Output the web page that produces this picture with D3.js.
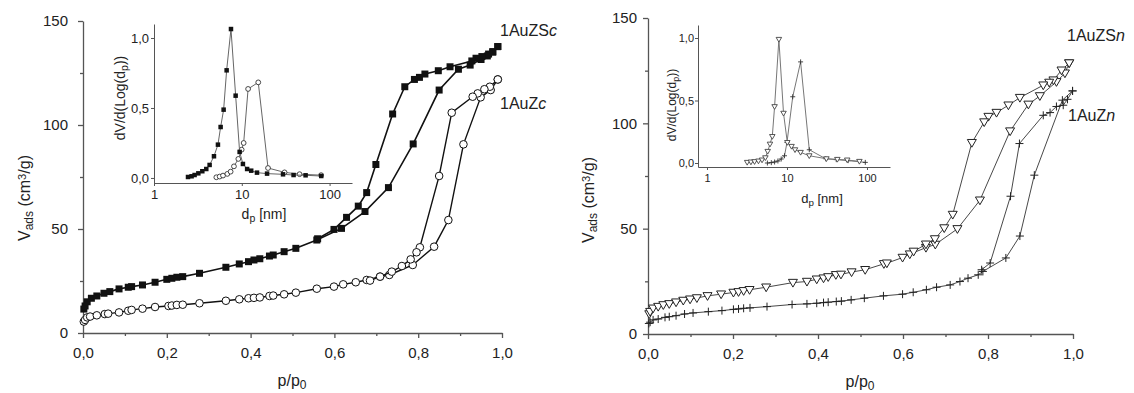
<!DOCTYPE html>
<html>
<head>
<meta charset="utf-8">
<script src="https://cdn.jsdelivr.net/npm/d3@7"></script>
<style>
  body { margin: 0; background: #fff; }
  svg { font-family: "Liberation Sans", Arial, sans-serif; }
  .axis path, .axis line { stroke: #555; }
  .axis text { fill: #222; }
</style>
</head>
<body>
<svg id="chart" width="1134" height="393"></svg>
<script>
// isotherms: [p/p0, V ads]
const zsAds = [[0.002,11.5],[0.005,13],[0.01,15],[0.02,16.7],[0.033,17.8],[0.05,19.1],[0.064,19.9],[0.086,21.2],[0.108,22],[0.116,22.3],[0.142,23.1],[0.172,24.4],[0.2,25.8],[0.212,26.3],[0.224,26.8],[0.238,27.1],[0.278,28.7],[0.341,31.6],[0.373,33.2],[0.395,34.3],[0.408,35.1],[0.422,35.7],[0.445,37],[0.454,37.5],[0.48,39.1],[0.508,40.7],[0.558,44.7],[0.617,50.3],[0.673,58.4],[0.729,69.9],[0.788,90.9],[0.85,116.8],[0.896,126.8],[0.924,128.8],[0.95,131.5],[0.965,133.2],[0.978,135],[0.99,137.7]];
const zsDes = [[0.99,137.7],[0.978,135.3],[0.968,134.1],[0.952,132.9],[0.938,132.1],[0.928,130.8],[0.876,128],[0.848,126.1],[0.816,124.5],[0.803,122.9],[0.791,121.9],[0.768,118.4],[0.739,105.3],[0.699,81],[0.677,67.5],[0.657,61],[0.629,55.6],[0.599,49.8],[0.56,45.3]];
const zAds = [[0.002,5.5],[0.005,6.3],[0.01,7.5],[0.017,7.9],[0.033,8.5],[0.052,9.1],[0.06,9.3],[0.086,9.9],[0.108,10.7],[0.116,11.1],[0.142,11.7],[0.172,12.5],[0.204,13],[0.212,13.2],[0.224,13.5],[0.238,13.6],[0.278,14.3],[0.341,15.5],[0.373,16.2],[0.395,16.7],[0.408,16.9],[0.422,17.1],[0.445,17.8],[0.454,18],[0.48,18.6],[0.508,19.4],[0.558,21.3],[0.599,22.3],[0.621,23.4],[0.651,24.4],[0.677,25.5],[0.709,27.1],[0.731,27.9],[0.787,32.7],[0.838,41.5],[0.872,54.3],[0.908,90.7],[0.949,113.3],[0.973,116.8],[0.99,121.9]];
const zDes = [[0.99,121.9],[0.971,118.4],[0.958,117.2],[0.942,115.2],[0.93,113.6],[0.88,105.9],[0.85,75.5],[0.804,41.2],[0.796,38.8],[0.782,35.4],[0.761,32.2],[0.737,29.5],[0.709,27.1],[0.685,25.2]];

const znsAds = [[0.003,9.5],[0.005,10.6],[0.012,12.2],[0.024,13],[0.036,13.8],[0.05,14.3],[0.066,15.1],[0.083,15.9],[0.099,16.5],[0.115,17.1],[0.14,18.1],[0.172,18.9],[0.201,19.7],[0.213,20],[0.225,20.5],[0.239,21],[0.278,22.2],[0.341,24.4],[0.374,24.9],[0.397,26],[0.413,26.5],[0.424,27.1],[0.442,28.1],[0.454,28.3],[0.479,29.4],[0.511,30.5],[0.555,33.3],[0.562,33.6],[0.599,36.3],[0.616,37.9],[0.654,41],[0.676,42.5],[0.728,49.9],[0.781,63.5],[0.852,96.3],[0.895,109],[0.922,113],[0.961,119.7],[0.981,123.8],[0.991,128.6]];
const znsDes = [[0.991,128.6],[0.973,125.2],[0.954,120.5],[0.944,119.4],[0.93,118.1],[0.875,112.2],[0.848,108.6],[0.82,105.1],[0.801,103.2],[0.791,100.6],[0.762,90.8],[0.717,56.7],[0.697,50.3],[0.675,45.1],[0.654,42.6],[0.625,39.2]];
const znAds = [[0.002,5],[0.005,5.6],[0.012,6.7],[0.024,7.1],[0.04,7.9],[0.05,8.2],[0.066,8.7],[0.086,9.5],[0.106,10],[0.142,10.6],[0.174,11.1],[0.201,11.7],[0.213,11.9],[0.225,12.2],[0.24,12.4],[0.28,13],[0.339,14],[0.374,14.3],[0.397,14.6],[0.413,14.9],[0.424,15.1],[0.443,15.4],[0.455,15.6],[0.478,16.2],[0.509,17],[0.554,18.1],[0.599,18.9],[0.624,19.8],[0.655,21],[0.679,22.2],[0.711,23.3],[0.734,24.9],[0.753,26.5],[0.777,28.1],[0.788,29.7],[0.842,36.1],[0.875,46.5],[0.909,75.4],[0.975,111],[0.999,115.4]];
const znDes = [[0.999,115.4],[0.987,111.4],[0.977,108.6],[0.961,108],[0.946,105.1],[0.93,103.8],[0.874,90.4],[0.853,65.4],[0.805,33.7],[0.785,30.5]];

// pore size distributions: [dp nm, dV/dlog(dp)]
const psdZSc = [[2.44,0.007],[2.68,0.012],[2.9,0.021],[3.2,0.033],[3.55,0.048],[3.94,0.064],[4.3,0.093],[4.82,0.155],[5.35,0.238],[5.74,0.364],[6.21,0.488],[6.72,0.769],[7.53,1.064],[8.51,0.588],[9.45,0.186],[10.3,0.1],[11.5,0.064],[12.8,0.052],[14.9,0.038],[19.4,0.031],[29.5,0.026],[38.9,0.021],[53.3,0.019],[80.4,0.014]];
const psdZc = [[5.13,0.005],[5.6,0.01],[6.11,0.017],[6.84,0.029],[7.46,0.045],[8.14,0.083],[9.13,0.136],[9.96,0.202],[10.5,0.25],[11.8,0.636],[15.4,0.683],[19.9,0.071],[30.7,0.04],[45.5,0.027],[80,0.02]];
const psdZSn = [[3.18,0.005],[3.54,0.008],[3.93,0.011],[4.4,0.016],[4.88,0.024],[5.37,0.042],[5.74,0.093],[6.13,0.151],[6.55,0.212],[7.0,0.451],[7.92,0.989],[9.05,0.398],[10.1,0.164],[11.4,0.133],[12.6,0.106],[14.8,0.085],[19.0,0.058],[31.1,0.034],[42.6,0.029],[56.6,0.024],[80.4,0.013]];
const psdZn = [[5.69,0.0],[6.37,0.003],[7.0,0.008],[7.7,0.016],[8.47,0.032],[9.31,0.058],[10.0,0.164],[11.8,0.53],[14.8,0.809],[19.0,0.106],[30.5,0.034],[41.3,0.027],[58.2,0.019],[95.3,0.005]];

const mainXTicks = [0, 0.2, 0.4, 0.6, 0.8, 1.0];
const mainXMinor = [0.1, 0.3, 0.5, 0.7, 0.9];
const mainYTicks = [0, 50, 100, 150];
const mainYMinor = [25, 75, 125];
const insetXTicks = [1, 10, 100];
const insetYTicks = [0, 0.5, 1.0];

const svg = d3.select('#chart');
const comma = (d) => d3.format('.1f')(d).replace('.', ',');

const square = (s) => `M${-s/2},${-s/2}h${s}v${s}h${-s}Z`;
const circle = (r) => `M${-r},0a${r},${r} 0 1,0 ${2*r},0a${r},${r} 0 1,0 ${-2*r},0`;
const triDown = (s) => `M${-s/2},${-s*0.36}L${s/2},${-s*0.36}L0,${s*0.5}Z`;
const plus = (s) => `M${-s/2},0H${s/2}M0,${-s/2}V${s/2}`;

function drawSeries(g, x, y, data, opt) {
  const line = d3.line().x((d) => x(d[0])).y((d) => y(d[1]));
  g.append('path')
    .datum(data)
    .attr('d', line)
    .attr('fill', 'none')
    .attr('stroke', opt.line)
    .attr('stroke-width', opt.lw);
  g.selectAll(null)
    .data(data)
    .enter()
    .append('path')
    .attr('d', opt.shape)
    .attr('transform', (d) => 'translate(' + x(d[0]) + ',' + y(d[1]) + ')')
    .attr('fill', opt.fill)
    .attr('stroke', opt.stroke)
    .attr('stroke-width', opt.sw);
}

function yLabel(g, cx, cy, size) {
  const t = g.append('text')
    .attr('transform', 'translate(' + cx + ',' + cy + ') rotate(-90)')
    .attr('text-anchor', 'middle')
    .style('font-size', size + 'px')
    .attr('fill', '#222');
  t.append('tspan').text('V');
  t.append('tspan').text('ads').attr('baseline-shift', '-25%').style('font-size', (size * 0.75) + 'px');
  t.append('tspan').text(' (cm');
  t.append('tspan').text('3').attr('baseline-shift', '40%').style('font-size', (size * 0.7) + 'px');
  t.append('tspan').text('/g)');
}

function drawMain(p) {
  const x = d3.scaleLinear().domain([0, 1]).range(p.xr);
  const y = d3.scaleLinear().domain([0, 150]).range(p.yr);
  const g = svg.append('g');

  g.append('g').attr('class', 'axis')
    .attr('transform', 'translate(0,' + p.yr[0] + ')')
    .call(d3.axisBottom(x).tickValues(mainXMinor).tickSize(3).tickFormat(''))
    .call((a) => a.select('.domain').remove());
  g.append('g').attr('class', 'axis')
    .attr('transform', 'translate(' + p.xr[0] + ',0)')
    .call(d3.axisLeft(y).tickValues(mainYMinor).tickSize(3).tickFormat(''))
    .call((a) => a.select('.domain').remove());
  g.append('g').attr('class', 'axis')
    .attr('transform', 'translate(0,' + p.yr[0] + ')')
    .call(d3.axisBottom(x).tickValues(mainXTicks).tickSize(5).tickSizeOuter(0).tickPadding(9).tickFormat(comma))
    .call((a) => a.selectAll('text').style('font-size', '15px'));
  g.append('g').attr('class', 'axis')
    .attr('transform', 'translate(' + p.xr[0] + ',0)')
    .call(d3.axisLeft(y).tickValues(mainYTicks).tickSize(5).tickSizeOuter(0).tickPadding(p.ypad).tickFormat(d3.format('d')))
    .call((a) => a.selectAll('text').style('font-size', '15px'));
  g.selectAll('.axis path, .axis line').attr('stroke-width', 1.3);

  const xl = g.append('text')
    .attr('x', p.xlab[0]).attr('y', p.xlab[1])
    .attr('text-anchor', 'middle')
    .style('font-size', '16px')
    .attr('fill', '#222');
  xl.append('tspan').text('p/p');
  xl.append('tspan').text('0').attr('baseline-shift', '-25%').style('font-size', '12px');
  yLabel(g, p.ylab[0], p.ylab[1], 16);

  p.series.forEach((s) => drawSeries(g, x, y, s.data, s.opt));

  p.labels.forEach((l) => {
    const t = g.append('text').attr('x', l.x).attr('y', l.y)
      .style('font-size', '16px').attr('fill', '#222');
    t.append('tspan').text(l.text);
    t.append('tspan').text(l.it).style('font-style', 'italic');
  });
}

function drawInset(p) {
  const x = d3.scaleLog().domain(p.xd).range(p.xr);
  const y = d3.scaleLinear().domain(p.yd).range(p.yr);
  const g = svg.append('g');

  g.append('g').attr('class', 'axis')
    .attr('transform', 'translate(0,' + p.yr[0] + ')')
    .call(d3.axisBottom(x).tickValues(insetXTicks).tickSize(3).tickSizeOuter(0).tickPadding(4).tickFormat(d3.format('d')))
    .call((a) => a.selectAll('text').style('font-size', p.fs + 'px'));
  g.append('g').attr('class', 'axis')
    .attr('transform', 'translate(' + p.xr[0] + ',0)')
    .call(d3.axisLeft(y).tickValues(insetYTicks).tickSize(3).tickSizeOuter(0).tickPadding(p.ypad).tickFormat(comma))
    .call((a) => a.selectAll('text').style('font-size', p.fs + 'px'));
  g.selectAll('.axis path, .axis line').attr('stroke-width', 1);

  const xl = g.append('text')
    .attr('x', p.xlab[0]).attr('y', p.xlab[1])
    .attr('text-anchor', 'middle')
    .style('font-size', p.lfs + 'px')
    .attr('fill', '#222');
  xl.append('tspan').text('d');
  xl.append('tspan').text('p').attr('baseline-shift', '-30%').style('font-size', (p.lfs * 0.75) + 'px');
  xl.append('tspan').text(' [nm]');

  const yl = g.append('text')
    .attr('transform', 'translate(' + p.ylab[0] + ',' + p.ylab[1] + ') rotate(-90)')
    .attr('text-anchor', 'middle')
    .style('font-size', p.yfs + 'px')
    .attr('fill', '#222');
  yl.append('tspan').text('dV/d(Log(d');
  yl.append('tspan').text('p').attr('baseline-shift', '-30%').style('font-size', (p.yfs * 0.75) + 'px');
  yl.append('tspan').text('))');

  p.series.forEach((s) => drawSeries(g, x, y, s.data, s.opt));
}

// left panel
drawMain({
  xr: [83, 502], yr: [333, 21], ypad: 10,
  xlab: [292, 386], ylab: [30, 198],
  series: [
    { data: zAds, opt: { line: '#111', lw: 1.4, shape: circle(3.8), fill: '#fff', stroke: '#111', sw: 1 } },
    { data: zDes, opt: { line: '#111', lw: 1.4, shape: circle(3.8), fill: '#fff', stroke: '#111', sw: 1 } },
    { data: zsAds, opt: { line: '#111', lw: 1.6, shape: square(7), fill: '#111', stroke: 'none', sw: 0 } },
    { data: zsDes, opt: { line: '#111', lw: 1.6, shape: square(7), fill: '#111', stroke: 'none', sw: 0 } },
  ],
  labels: [{ x: 500, y: 36, text: '1AuZS', it: 'c' }, { x: 500, y: 109, text: '1AuZ', it: 'c' }],
});

drawInset({
  xd: [1, 180], xr: [154, 352], yd: [-0.036, 1.1], yr: [183, 24], fs: 13, lfs: 14, yfs: 14, ypad: 2,
  xlab: [264, 219], ylab: [125, 98],
  series: [
    { data: psdZc, opt: { line: '#666', lw: 1, shape: circle(2.4), fill: '#fff', stroke: '#333', sw: 0.9 } },
    { data: psdZSc, opt: { line: '#666', lw: 1, shape: square(4.5), fill: '#111', stroke: 'none', sw: 0 } },
  ],
});

// right panel
drawMain({
  xr: [648, 1073], yr: [334, 18], ypad: 6,
  xlab: [860, 387], ylab: [594, 200],
  series: [
    { data: znAds, opt: { line: '#333', lw: 0.9, shape: plus(8), fill: 'none', stroke: '#222', sw: 1 } },
    { data: znDes, opt: { line: '#333', lw: 0.9, shape: plus(8), fill: 'none', stroke: '#222', sw: 1 } },
    { data: znsAds, opt: { line: '#333', lw: 0.9, shape: triDown(9), fill: '#fff', stroke: '#222', sw: 1 } },
    { data: znsDes, opt: { line: '#333', lw: 0.9, shape: triDown(9), fill: '#fff', stroke: '#222', sw: 1 } },
  ],
  labels: [{ x: 1067, y: 41, text: '1AuZS', it: 'n' }, { x: 1068, y: 121, text: '1AuZ', it: 'n' }],
});

drawInset({
  xd: [0.772, 194], xr: [698, 890], yd: [-0.032, 1.104], yr: [167, 25], fs: 11, lfs: 13, yfs: 12, ypad: 1,
  xlab: [822, 203], ylab: [676, 105],
  series: [
    { data: psdZn, opt: { line: '#777', lw: 1, shape: plus(5), fill: 'none', stroke: '#333', sw: 0.9 } },
    { data: psdZSn, opt: { line: '#777', lw: 1, shape: triDown(5.5), fill: '#fff', stroke: '#444', sw: 0.9 } },
  ],
});
</script>
</body>
</html>
